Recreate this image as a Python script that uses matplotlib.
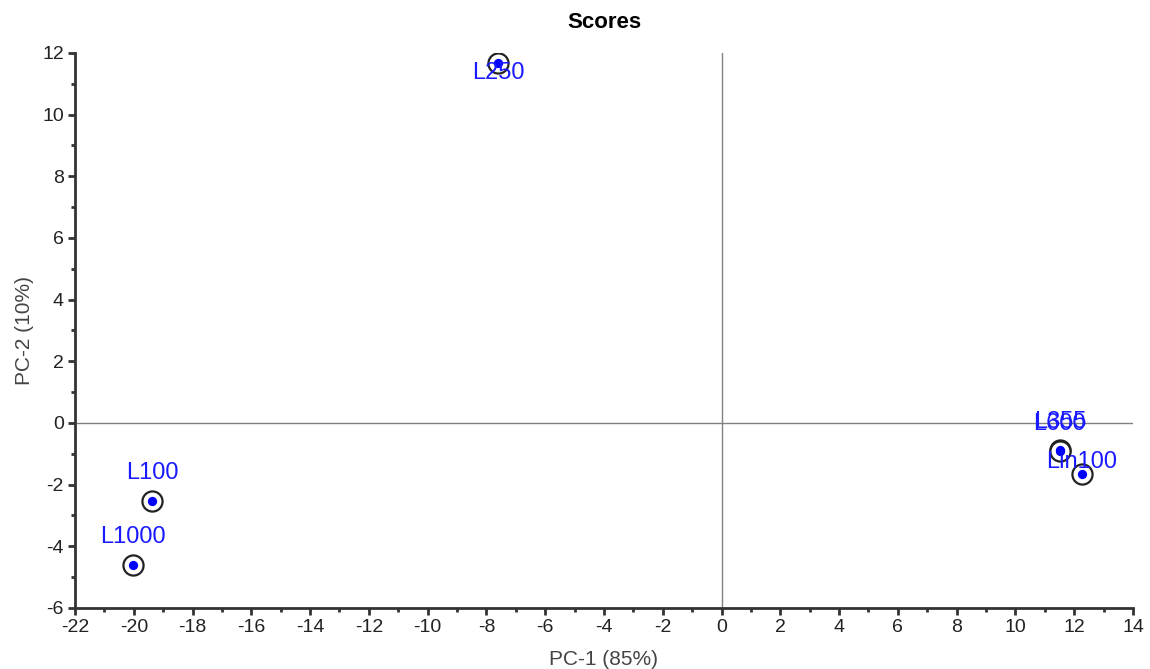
import matplotlib
matplotlib.use("Agg")
import matplotlib.pyplot as plt
from matplotlib.ticker import MultipleLocator

# sample scores
names = ["L250", "L100", "L1000", "L355", "L600", "Lin100"]
pc1 = [-7.61, -19.38, -20.03, 11.52, 11.50, 12.26]
pc2 = [11.68, -2.53, -4.61, -0.88, -0.92, -1.66]
# label offsets in points (style only)
label_offsets = [(0, -7), (0, 20), (0, 20), (0, 20), (0, 20), (0, 9)]

plt.rcParams["font.family"] = ["Liberation Sans", "DejaVu Sans"]
plt.rcParams["axes.unicode_minus"] = False

fig = plt.figure(figsize=(11.5, 6.69), dpi=100)
ax = fig.add_axes([0.0652, 0.0912, 0.9200, 0.8296])

ax.axhline(0, color="#808080", lw=1.0, zorder=1)
ax.axvline(0, color="#808080", lw=1.0, zorder=1)

ax.scatter(pc1, pc2, s=210, facecolors="white", edgecolors="#222222", linewidths=1.6, zorder=3)
ax.scatter(pc1, pc2, s=32, color="#0000ff", zorder=4)

for name, x, y, off in zip(names, pc1, pc2, label_offsets):
    ax.annotate(name, (x, y), xytext=off, textcoords="offset points",
                ha="center", va="center", color="#1a1aff", fontsize=17, zorder=5)

ax.set_xlim(-22, 14)
ax.set_ylim(-6, 12)
ax.xaxis.set_major_locator(MultipleLocator(2))
ax.xaxis.set_minor_locator(MultipleLocator(1))
ax.yaxis.set_major_locator(MultipleLocator(2))
ax.yaxis.set_minor_locator(MultipleLocator(1))

for side in ["top", "right"]:
    ax.spines[side].set_visible(False)
for side in ["left", "bottom"]:
    ax.spines[side].set_color("#333333")
    ax.spines[side].set_linewidth(2)

ax.tick_params(which="major", direction="out", length=5, width=2, color="#333333",
               labelsize=14, labelcolor="#222222", pad=3)
ax.tick_params(which="minor", direction="out", length=3, width=2, color="#333333")

ax.set_xlabel("PC-1 (85%)", fontsize=15, color="#444444", labelpad=10)
ax.set_ylabel("PC-2 (10%)", fontsize=15, color="#444444", labelpad=6)
ax.set_title("Scores", fontsize=16, fontweight="bold", pad=18)

fig.savefig("out.png", dpi=100)
